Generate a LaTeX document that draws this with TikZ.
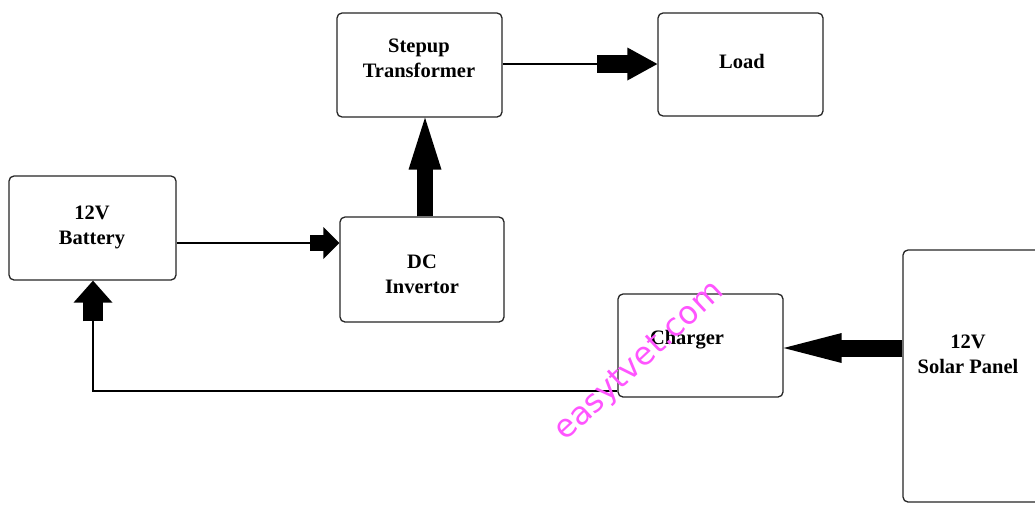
\documentclass[tikz,border=0pt]{standalone}
\usepackage{fontspec}
\setmainfont{Liberation Serif}
\newfontfamily\wmfont{DejaVu Sans}
\usetikzlibrary{arrows.meta}
\definecolor{wmcol}{RGB}{255,85,255}
\begin{document}
\begin{tikzpicture}[x=1pt,y=-1pt,
  box/.style={draw=black!85, line width=1.3pt, rounded corners=5pt, inner sep=0pt},
  lbl/.style={font=\bfseries\fontsize{20.5}{25}\selectfont, align=center, inner sep=0pt},
  thin/.style={draw=black, line width=1.3pt},
  blk/.style n args={3}{draw=black, line width=#1, line cap=butt,
    -{Triangle[width=#2,length=#3,line width=0pt]},
    postaction={draw=black, -, shorten >=#3-2pt}}]
\fill[white] (0,0) rectangle (1035,504);
\useasboundingbox (0,0) rectangle (1035,504);
% boxes
\node[box, minimum width=167pt, minimum height=104pt] (battery) at (92.5,228) {};
\node[box, minimum width=165pt, minimum height=104pt] (stepup) at (419.5,65) {};
\node[box, minimum width=165pt, minimum height=103pt] (load) at (740.5,64.5) {};
\node[box, minimum width=164pt, minimum height=105pt] (dc) at (422,269.5) {};
\node[box, minimum width=165pt, minimum height=103pt] (charger) at (700.5,345.5) {};
\node[box, minimum width=142pt, minimum height=252pt] (solar) at (974,376) {};
% labels
\node[lbl] (batteryT) at (92,227) {12V\\Battery};
\node[lbl] (stepupT) at (419,58) {Stepup\\Transformer};
\node[lbl] (loadT) at (742,61) {Load};
\node[lbl] (dcT) at (422,274) {DC\\Invertor};
\node[lbl] (chargerT) at (687,340) {Charger};
\node[lbl] (solarT) at (968,354) {12V\\Solar Panel};
% connectors
\coordinate (bA) at (310,243);
\draw[thin] (battery.east |- bA) -- (bA);
\draw[blk={16pt}{32pt}{16pt}] (bA) -- (dc.west |- bA);
\coordinate (uA) at (425,0);
\draw[blk={16pt}{33pt}{52pt}] (uA |- dc.north) -- (uA |- stepup.south);
\coordinate (sA) at (597,64);
\draw[thin] (stepup.east |- sA) -- (sA);
\draw[blk={18pt}{33pt}{30pt}] (sA) -- (load.west |- sA);
\coordinate (cA) at (0,348);
\draw[blk={17pt}{30pt}{58pt}] (solar.west |- cA) -- (charger.east |- cA);
\coordinate (kA) at (93,391);
\coordinate (kB) at (93,321);
\draw[thin] (charger.west |- kA) -- (kA) -- (kB);
\draw[blk={20pt}{39pt}{22pt}] (kB) -- (kB |- battery.south);
% watermark
\node[font=\wmfont\fontsize{32}{38}\selectfont, text=wmcol, rotate=43, inner sep=0pt] (wm) at (640,362) {easytvet.com};
\end{tikzpicture}
\end{document}
